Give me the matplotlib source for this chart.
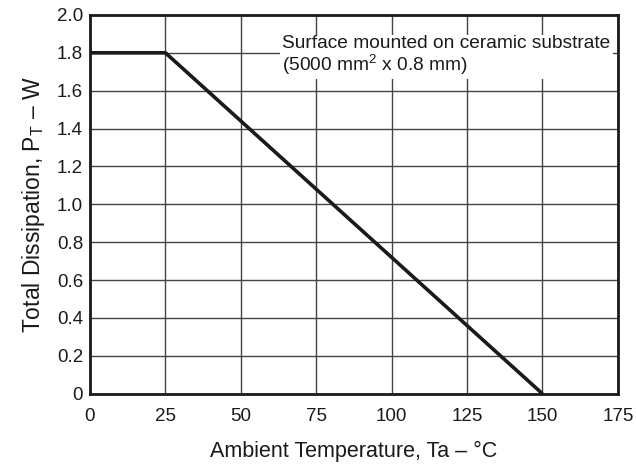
import matplotlib
matplotlib.use('Agg')
import matplotlib.pyplot as plt

# derating curve: total dissipation vs ambient temperature
temp_c = [0, 25, 150]
power_w = [1.8, 1.8, 0.0]

x_ticks = [0, 25, 50, 75, 100, 125, 150, 175]
y_ticks = [0, 0.2, 0.4, 0.6, 0.8, 1.0, 1.2, 1.4, 1.6, 1.8, 2.0]
y_labels = ['0', '0.2', '0.4', '0.6', '0.8', '1.0', '1.2', '1.4', '1.6', '1.8', '2.0']

plt.rcParams['font.family'] = ['Liberation Sans', 'DejaVu Sans']
plt.rcParams['mathtext.fontset'] = 'custom'
plt.rcParams['mathtext.rm'] = 'Liberation Sans'

fig = plt.figure(figsize=(6.36, 4.66), dpi=100)
ax = fig.add_axes([0.1415, 0.155, 0.830, 0.813])

ax.plot(temp_c, power_w, color='#1a1a1a', linewidth=2.6, solid_capstyle='butt', zorder=3)

ax.set_xlim(0, 175)
ax.set_ylim(0, 2.0)
ax.set_xticks(x_ticks)
ax.set_yticks(y_ticks)
ax.set_yticklabels(y_labels)
ax.grid(True, color='#444444', linewidth=1.0)
ax.tick_params(length=0, labelsize=13.5, colors='#1a1a1a')
ax.tick_params(axis='x', pad=10)
ax.tick_params(axis='y', pad=5)
for s in ax.spines.values():
    s.set_linewidth(2.0)
    s.set_color('#1a1a1a')

ax.set_xlabel('Ambient Temperature, Ta \u2013 \u00b0C', fontsize=15.5, color='#1a1a1a', labelpad=12)
ax.set_ylabel('Total Dissipation, P$_{\\mathregular{T}}$ \u2013 W', fontsize=16.5, color='#1a1a1a', labelpad=7)

ax.text(63.8, 1.785, 'Surface mounted on ceramic substrate\n(5000 mm$^{\\mathregular{2}}$ x 0.8 mm)',
        fontsize=13.8, color='#1a1a1a', va='center', ha='left', linespacing=1.0,
        bbox=dict(facecolor='white', edgecolor='none', pad=1.5), zorder=4)

plt.savefig('out.png', dpi=100)
